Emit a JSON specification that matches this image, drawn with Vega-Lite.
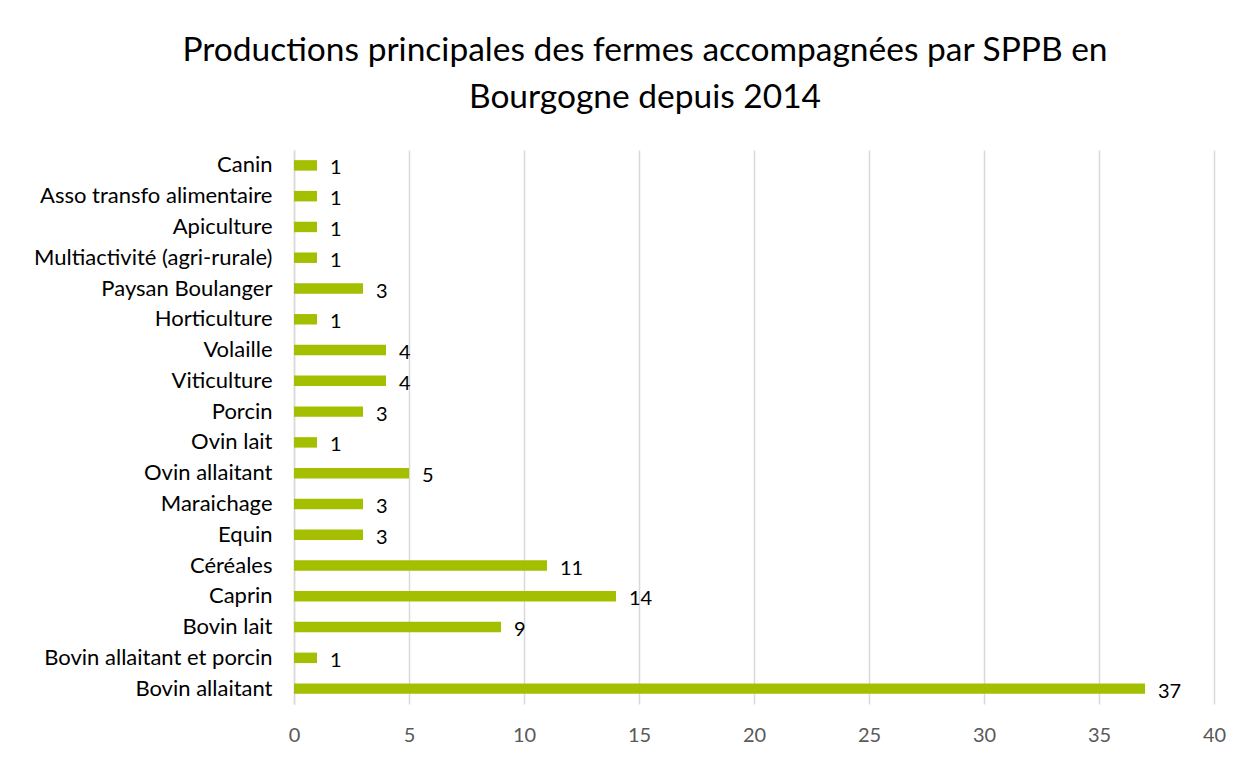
{
  "$schema": "https://vega.github.io/schema/vega-lite/v6.json",
  "width": 920,
  "height": 554,
  "autosize": {"type": "none"},
  "padding": {"left": 294, "top": 150, "right": 41, "bottom": 58},
  "background": "white",
  "title": {
    "text": ["Productions principales des fermes accompagnées par SPPB en", "Bourgogne depuis 2014"],
    "font": "Lato",
    "fontSize": 33.5,
    "fontWeight": "normal",
    "color": "#000000",
    "anchor": "middle",
    "dx": -109,
    "lineHeight": 47,
    "offset": 35
  },
  "data": {
    "values": [
      {"production": "Canin", "fermes": 1},
      {"production": "Asso transfo alimentaire", "fermes": 1},
      {"production": "Apiculture", "fermes": 1},
      {"production": "Multiactivité (agri-rurale)", "fermes": 1},
      {"production": "Paysan Boulanger", "fermes": 3},
      {"production": "Horticulture", "fermes": 1},
      {"production": "Volaille", "fermes": 4},
      {"production": "Viticulture", "fermes": 4},
      {"production": "Porcin", "fermes": 3},
      {"production": "Ovin lait", "fermes": 1},
      {"production": "Ovin allaitant", "fermes": 5},
      {"production": "Maraichage", "fermes": 3},
      {"production": "Equin ", "fermes": 3},
      {"production": "Céréales", "fermes": 11},
      {"production": "Caprin", "fermes": 14},
      {"production": "Bovin lait", "fermes": 9},
      {"production": "Bovin allaitant et porcin", "fermes": 1},
      {"production": "Bovin allaitant", "fermes": 37}
    ]
  },
  "encoding": {
    "y": {
      "field": "production",
      "type": "nominal",
      "sort": null,
      "scale": {"paddingInner": 0.66, "paddingOuter": 0.33},
      "axis": {
        "title": null,
        "ticks": false,
        "domain": true,
        "domainColor": "#d9d9d9",
        "domainWidth": 1.5,
        "labelFont": "Lato",
        "labelFontSize": 22,
        "labelColor": "#000000",
        "labelPadding": 22,
        "labelLimit": 0,
        "grid": false
      }
    },
    "x": {
      "field": "fermes",
      "type": "quantitative",
      "scale": {"domain": [0, 40]},
      "axis": {
        "title": null,
        "values": [0, 5, 10, 15, 20, 25, 30, 35, 40],
        "ticks": false,
        "domain": false,
        "grid": true,
        "gridColor": "#d9d9d9",
        "gridWidth": 1.5,
        "labelFont": "Lato",
        "labelFontSize": 20,
        "labelColor": "#595959",
        "labelPadding": 21,
        "labelFlush": false
      }
    }
  },
  "layer": [
    {"mark": {"type": "bar", "color": "#A3BF00"}},
    {
      "mark": {"type": "text", "align": "left", "baseline": "middle", "dx": 13, "dy": 3, "font": "Lato", "fontSize": 20, "color": "#000000"},
      "encoding": {"text": {"field": "fermes", "type": "quantitative"}}
    }
  ],
  "config": {"view": {"stroke": null}}
}
